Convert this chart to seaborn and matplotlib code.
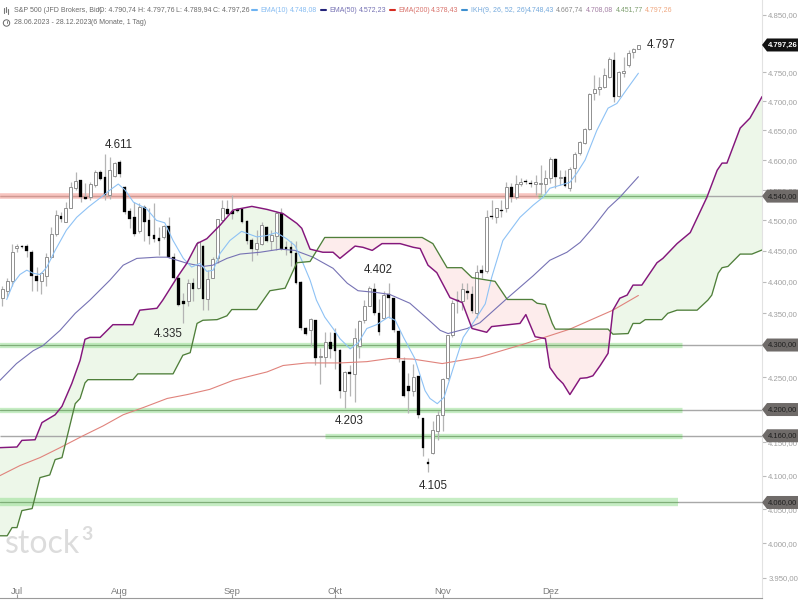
import numpy as np
import matplotlib
matplotlib.use("Agg")
import matplotlib.pyplot as plt
import seaborn as sns
from matplotlib.patches import Polygon, Circle
from matplotlib.lines import Line2D
from matplotlib.ticker import FuncFormatter, NullLocator
from matplotlib.transforms import IdentityTransform

# daily candles, S&P 500 CFD
opens = [4375, 4386, 4401, 4455, 4458, 4458, 4448, 4409, 4401, 4410,
         4440, 4477, 4506, 4497, 4520, 4553, 4566, 4538, 4538, 4558,
         4580, 4571, 4541, 4574, 4597, 4555, 4515, 4505, 4482, 4521,
         4500, 4475, 4470, 4472, 4490, 4440, 4406, 4369, 4370, 4398,
         4390, 4458, 4373, 4407, 4438, 4501, 4518, 4515, 4518, 4518,
         4498, 4467, 4454, 4462, 4489, 4466, 4475, 4511, 4456, 4456,
         4446, 4399, 4327, 4323, 4339, 4281, 4281, 4304, 4318, 4291,
         4229, 4257, 4255, 4298, 4339, 4362, 4388, 4350, 4343, 4380,
         4374, 4321, 4274, 4235, 4228, 4251, 4186, 4120, 4134, 4168,
         4191, 4248, 4315, 4371, 4370, 4385, 4381, 4351, 4419, 4417,
         4506, 4505, 4517, 4520, 4555, 4538, 4560, 4564.5, 4561, 4560,
         4560, 4560, 4570, 4602, 4570, 4571, 4553, 4586, 4612, 4628,
         4652, 4714, 4721, 4725, 4742, 4771, 4709, 4749, 4762, 4785,
         4790.74]
highs = [4394, 4407, 4462, 4462, 4460, 4462, 4451, 4424, 4416, 4446,
         4489, 4517, 4513, 4530, 4563, 4580, 4566, 4561, 4563, 4583,
         4583, 4611, 4605, 4597, 4600, 4556, 4521, 4530, 4528, 4525,
         4521, 4528, 4489, 4493, 4505, 4446, 4409, 4382, 4404, 4406,
         4467, 4459, 4419, 4440, 4503, 4533, 4533, 4541, 4520, 4520,
         4500, 4471, 4484, 4497, 4490, 4484, 4515, 4520, 4467, 4467,
         4466, 4401, 4329, 4342, 4340, 4296, 4320, 4320, 4326, 4293,
         4260, 4268, 4326, 4339, 4371, 4393, 4399, 4373, 4386, 4398,
         4375, 4323, 4281, 4257, 4270, 4252, 4187, 4127, 4183, 4198,
         4248, 4316, 4371, 4386, 4398, 4398, 4394, 4427, 4427, 4517,
         4533, 4521, 4533, 4563, 4561, 4575, 4570, 4568, 4566, 4575,
         4591, 4583, 4605, 4603, 4583, 4583, 4588, 4613, 4632, 4654,
         4714, 4745, 4742, 4757, 4776, 4785, 4752, 4776, 4788, 4792,
         4797.76]
lows = [4362, 4376, 4393, 4448, 4455, 4440, 4386, 4386, 4381, 4394,
        4438, 4475, 4497, 4497, 4520, 4550, 4530, 4536, 4533, 4555,
        4566, 4533, 4536, 4571, 4571, 4511, 4487, 4475, 4479, 4467,
        4462, 4464, 4443, 4470, 4438, 4404, 4361, 4335, 4362, 4370,
        4388, 4356, 4356, 4406, 4431, 4497, 4508, 4503, 4513, 4495,
        4461, 4433, 4443, 4459, 4464, 4451, 4451, 4451, 4443, 4426,
        4397, 4324, 4315, 4299, 4268, 4240, 4265, 4279, 4263, 4218,
        4203, 4221, 4211, 4279, 4335, 4361, 4348, 4315, 4341, 4343,
        4321, 4273, 4220, 4195, 4221, 4187, 4130, 4105, 4133, 4153,
        4168, 4245, 4313, 4351, 4355, 4373, 4350, 4342, 4406, 4415,
        4502, 4495, 4505, 4513, 4530, 4536, 4556, 4560, 4555, 4541,
        4541, 4545, 4561, 4553, 4558, 4555, 4548, 4563, 4608, 4627,
        4650, 4702, 4711, 4723, 4740, 4699, 4707, 4742, 4759, 4774,
        4789.94]
closes = [4388, 4401, 4448, 4458, 4456, 4450, 4410, 4402, 4414, 4440,
          4477, 4508, 4503, 4520, 4555, 4565, 4538, 4536, 4560, 4580,
          4569, 4541, 4583, 4595, 4576, 4513, 4503, 4477, 4521, 4498,
          4475, 4469, 4467, 4490, 4440, 4406, 4364, 4365, 4398, 4388,
          4464, 4373, 4404, 4436, 4501, 4520, 4511, 4511, 4516, 4497,
          4467, 4453, 4462, 4492, 4466, 4475, 4511, 4453, 4453, 4446,
          4399, 4326, 4318, 4340, 4279, 4283, 4305, 4294, 4291, 4229,
          4257, 4255, 4310, 4337, 4361, 4390, 4350, 4320, 4378, 4374,
          4323, 4279, 4221, 4229, 4249, 4192, 4142, 4118, 4169, 4191,
          4246, 4315, 4366, 4370, 4388, 4383, 4354, 4415, 4415, 4505,
          4505, 4520, 4516, 4555, 4538, 4560, 4563, 4563, 4560, 4563,
          4561, 4570, 4602, 4571, 4571, 4556, 4585, 4610, 4630, 4652,
          4712, 4721, 4723, 4745, 4773, 4707, 4750, 4752, 4783, 4790,
          4797.26]

ema10_idx = [0.9, 2.25, 3.6, 5, 6.3, 7.8, 9.1, 10.8, 13.1, 15.2, 17.6, 20, 22, 23.7, 25.1,
             26.8, 29.5, 31.5, 33.2, 34.9, 37, 38.7, 40.4, 41.8, 43.1, 44.5, 46.5, 48.9,
             52, 54, 56, 58.1, 59.8, 61.2, 62.9, 64.2, 65.9, 67.6, 69, 71.1, 72.8, 74.5,
             76.5, 78.9, 80.3, 82, 84.3, 86.4, 87.4, 88.9, 90.3, 92.2, 94.2, 96.3, 98.7,
             100, 102.3, 105.8, 108.5, 110.5, 111.9, 114, 116, 117.4, 119.1, 121.5, 123.8,
             125.6, 127.6, 130]
ema10_val = [4372, 4398, 4412, 4419, 4414, 4412, 4424, 4451, 4484, 4505, 4522, 4537, 4550, 4560, 4550,
             4530, 4519, 4500, 4496, 4467, 4438, 4424, 4430, 4417, 4419, 4446, 4467, 4482,
             4473, 4475, 4480, 4470, 4459, 4435, 4403, 4371, 4344, 4326, 4310, 4294, 4304, 4326,
             4332, 4344, 4339, 4312, 4279, 4229, 4217, 4209, 4219, 4265, 4312, 4336, 4365,
             4407, 4467, 4505, 4525, 4538, 4553, 4558, 4563, 4578, 4600, 4650, 4688,
             4696, 4720, 4748.08]

ema50_idx = [-0.47, 2.9, 6.3, 8.3, 11.8, 14.9, 17.9, 22, 24.7, 27.5, 31.6, 33.7, 37.8, 41, 43, 45.9,
             48.6, 52.7, 56.8, 59.8, 63.5, 67.6, 70.5, 72.7, 76.6, 79.2, 83.3, 86.8, 89.5,
             91.1, 95, 97.6, 103.2, 108.5, 111.9, 115.4, 118.1, 120.7, 123.8, 126.2, 130]
ema50_val = [4245, 4271, 4291, 4299, 4323, 4350, 4371, 4403, 4427, 4438, 4440, 4440, 4430, 4425, 4427, 4438,
             4445, 4448, 4453, 4451, 4440, 4422, 4398, 4386, 4383, 4380, 4366, 4342, 4323,
             4318, 4326, 4335, 4374, 4410, 4435, 4448, 4464, 4488, 4520, 4538, 4572.23]

ema200_idx = [-0.47, 3.6, 7.7, 11.8, 16.5, 20.6, 24.7, 28.8, 33.7, 37.8, 42.4, 47.2, 54.1, 57.4,
              62.3, 69, 74.5, 79.2, 83.9, 89.9, 97.6, 106.4, 116, 124.8, 130]
ema200_val = [4100, 4115, 4127, 4142, 4160, 4175, 4192, 4203, 4217, 4223, 4231, 4245, 4258, 4268,
              4272, 4272, 4274, 4279, 4278, 4271, 4281, 4301, 4325, 4355, 4378.43]

# Ikhimoku cloud edges, these run on past the last candle
span_a_idx = [-0.5, 3, 4, 6.7, 8.1, 10.8, 12.2, 14.2, 15.9, 16.9, 17.9, 20, 22.6, 26.7, 28.1, 31.6, 32.8,
              35.7, 37.7, 39.8, 41.8, 44.5, 47.2, 51, 54.1, 57.4, 60.2, 61.2, 62.9, 65.5, 67.6,
              69, 72.1, 73.7, 75.6, 77.6, 81.3, 84, 85.4, 87, 88.8, 91.5, 94, 96, 99, 100, 105.8,
              107, 108.9, 111, 111.9, 113.4, 114.6, 116, 118.1, 119.5, 120.7, 122.2, 123.8,
              124.8, 126.2, 127.7, 128.9, 130.7, 133.8, 135, 137.9, 140.6, 144, 146.1, 147.1,
              148.1, 150.8, 152.8, 155.3]
span_a_val = [4142, 4143, 4153, 4154, 4180, 4192, 4205, 4240, 4276, 4309, 4312, 4312, 4332, 4332, 4355, 4358, 4371,
              4407, 4430, 4462, 4470, 4492, 4517, 4523, 4518, 4511, 4495, 4487, 4453, 4448, 4448,
              4438, 4458, 4456, 4451, 4462, 4462, 4456, 4454, 4427, 4415, 4375, 4367, 4326, 4320, 4329, 4334,
              4348, 4313, 4310, 4265, 4249, 4240, 4223, 4248, 4249, 4252, 4268, 4287,
              4355, 4374, 4379, 4395, 4395, 4431, 4438, 4462, 4480, 4538, 4583, 4595,
              4595, 4654, 4671, 4708]
span_b_idx = [-0.5, 1, 2, 3, 4, 6.1, 7.7, 9.7, 10.8, 12.2, 14.9, 15.9, 16.9, 17.5, 26.7, 27.7, 34.9,
              36.9, 38.4, 39.8, 41, 43.9, 45.9, 46.9, 52, 54.7, 57.8, 60.2, 62.9, 63.9, 65.9,
              74.5, 85.8, 88, 90.9, 93.9, 96, 100.7, 103.2, 108.3, 109.3, 111, 112.4, 113,
              123.8, 124.8, 127.9, 128.9, 130.3, 131.4, 134.8, 136, 137.9, 142, 144.2, 145,
              146.3, 147.1, 148.3, 150.8, 153.2, 155.3]
span_b_val = [4011, 4011, 4023, 4023, 4048, 4051, 4097, 4101, 4124, 4127, 4209, 4217, 4241, 4246, 4246, 4255, 4255,
              4284, 4288, 4334, 4339, 4340, 4346, 4356, 4356, 4386, 4390, 4431, 4433, 4446, 4472,
              4472, 4472, 4462, 4423, 4423, 4407, 4401, 4372, 4372, 4366, 4364, 4334, 4325,
              4325, 4317, 4318, 4334, 4334, 4340, 4340, 4350, 4355, 4355, 4371, 4379,
              4414, 4423, 4425, 4445, 4445, 4451.77]

month_idx = [3, 24, 47, 68, 90, 112]
month_labels = ["Jul", "Aug", "Sep", "Okt", "Nov", "Dez"]
# 4800, 4300 and 4200 sit fully behind the price tags
price_ticks = [3950, 4000, 4050, 4100, 4150, 4250, 4350, 4400, 4450, 4500, 4550,
               4600, 4650, 4700, 4750, 4850]
tag_levels = [4540, 4300, 4200, 4160, 4060]

# level, first candle of the band, last candle of the band
green_bands = [(4540, 109.5, 144), (4300, -1, 139), (4200, -1, 139), (4160, 66, 139), (4060, -1, 138)]

sns.set_style("white")
plt.rcParams["font.family"] = ["Liberation Sans", "DejaVu Sans"]

W, H = 800, 600
PX_PER_CANDLE = 4.893
fig = plt.figure(figsize=(8, 6), dpi=100)
ax = fig.add_axes([0, 2 / H, 762 / W, 598 / H])
ax.set_yscale("log")
ax.set_xlim(-2.3 / PX_PER_CANDLE, (762 - 2.3) / PX_PER_CANDLE)
ax.set_ylim(3921, 4876.6)

# cloud
grid = np.union1d(span_a_idx, span_b_idx)
a = np.interp(grid, span_a_idx, span_a_val)
b = np.interp(grid, span_b_idx, span_b_val)
ax.fill_between(grid, a, b, where=a >= b, interpolate=True, color="#edf7e9", lw=0, zorder=1)
ax.fill_between(grid, a, b, where=a <= b, interpolate=True, color="#fdecec", lw=0, zorder=1)

# levels
x_max = ax.get_xlim()[1]
x_min = ax.get_xlim()[0]
for level in tag_levels:
    ax.hlines(level, x_min, x_max, color="#a8a8a8", lw=1.0, zorder=2)
ax.hlines(4540, x_min, 110, color="#f08a80", alpha=0.5, lw=4.0, zorder=2)
ax.hlines(4540, x_min, 110, color="#d09a94", lw=0.7, zorder=2)
for level, start, end in green_bands:
    width = 6.0 if level == 4060 else 3.8
    ax.hlines(level, start, end, color="#8fdc8a", alpha=0.5, lw=width, zorder=2)
    ax.hlines(level, start, end, color="#7fae78", lw=0.7, zorder=2)

# candles
idx = np.arange(len(closes))
o = np.array(opens, dtype=float)
c = np.array(closes, dtype=float)
up = c >= o
ax.vlines(idx, lows, highs, color="#b4b4b4", lw=0.9, zorder=3)
ax.bar(idx[up], (c - o)[up] + 0.5, bottom=o[up], width=0.62, color="white",
       edgecolor="#909090", linewidth=0.7, zorder=3.5)
ax.bar(idx[~up], (o - c)[~up] + 0.5, bottom=c[~up], width=0.56, color="black",
       edgecolor="black", linewidth=0.2, zorder=3.5)

# indicator lines
line_opts = dict(ax=ax, estimator=None, sort=False, errorbar=None, zorder=4)
sns.lineplot(x=ema200_idx, y=ema200_val, color="#e0837c", lw=0.8, **line_opts)
sns.lineplot(x=ema50_idx, y=ema50_val, color="#7672b4", lw=0.8, **line_opts)
sns.lineplot(x=ema10_idx, y=ema10_val, color="#8ec2f5", lw=0.8, **line_opts)
sns.lineplot(x=span_b_idx, y=span_b_val, color="#4f7f3a", lw=0.95, **line_opts)
sns.lineplot(x=span_a_idx, y=span_a_val, color="#84177c", lw=1.05, **line_opts)

# axes
for side in ["top", "left"]:
    ax.spines[side].set_visible(False)
ax.spines["right"].set_color("#e2e2e2")
ax.spines["bottom"].set_color("#9a9a9a")
ax.yaxis.tick_right()
ax.set_yticks(price_ticks)
ax.yaxis.set_minor_locator(NullLocator())
ax.yaxis.set_major_formatter(FuncFormatter(lambda v, _: f"{v:,.2f}".replace(",", "X").replace(".", ",").replace("X", ".")))
ax.tick_params(axis="y", which="major", right=True, length=3, width=0.8, color="#bbbbbb",
               labelcolor="#a0a0a0", labelsize=5.6, pad=1.5)
ax.set_xticks(month_idx)
ax.set_xticklabels(month_labels)
ax.tick_params(axis="x", bottom=True, direction="in", length=3, width=0.8, color="#9a9a9a",
               labelcolor="#7c7c7c", labelsize=6.8, pad=-8)

# swing labels
for i, price, txt, align in [(23.85, 4625, "4.611", "center"), (33.9, 4318, "4.335", "center"),
                             (70.9, 4183, "4.203", "center"), (76.8, 4420, "4.402", "center"),
                             (88, 4085, "4.105", "center"), (131.8, 4797, "4.797", "left")]:
    ax.text(i, price, txt, ha=align, va="center", color="#2b2b2b", fontsize=8.3, zorder=6)

# watermark
ax.text(3 / PX_PER_CANDLE, 3999, "stock", family="Lato", fontsize=23, color="#dcdcdc",
        ha="left", va="center", zorder=1.5)
ax.text(79 / PX_PER_CANDLE, 4013, "3", family="Lato", fontsize=14, weight="bold", color="#dcdcdc",
        ha="left", va="center", zorder=1.5)


def px(x, y):
    return x / W, 1 - y / H


# price tags on the axis
def price_tag(price, txt, face, text_color, weight="normal"):
    y = ax.transData.transform((0, price))[1]
    pts = [(762, y), (767, y + 6.5), (798, y + 6.5), (798, y - 6.5), (767, y - 6.5)]
    fig.add_artist(Polygon(pts, closed=True, facecolor=face, edgecolor="none",
                           transform=IdentityTransform(), zorder=8))
    fig.text(782.5 / W, y / H, txt, color=text_color, fontsize=5.5, weight=weight,
             ha="center", va="center", zorder=9)


for level in tag_levels:
    price_tag(level, f"{level:,}".replace(",", ".") + ",00", "#6f6b69", "#1f1f1f")
price_tag(closes[-1], "4.797,26", "#111111", "white", "bold")

# header
header = [(13.5, "S&P 500 (JFD Brokers, Bid)", "#6b6b6b"), (99, "O: 4.790,74", "#6b6b6b"),
          (138, "H: 4.797,76", "#6b6b6b"), (176, "L: 4.789,94", "#6b6b6b"),
          (213, "C: 4.797,26", "#6b6b6b"), (260, "EMA(10)", "#86bcf2"), (290, "4.748,08", "#86bcf2"),
          (329, "EMA(50)", "#7672b4"), (359, "4.572,23", "#7672b4"), (398, "EMA(200)", "#d9736c"),
          (431, "4.378,43", "#d9736c"), (471, "IKH(9, 26, 52, 26)", "#74a9dc"),
          (527, "4.748,43", "#74a9dc"), (556, "4.667,74", "#8a8a8a"), (586, "4.708,08", "#a47fa4"),
          (616, "4.451,77", "#7f9f70"), (645, "4.797,26", "#efa67e")]
for x, txt, col in header:
    fig.text(*px(x, 10), txt, color=col, fontsize=5.0, ha="left", va="center")
fig.text(*px(13.5, 23), "28.06.2023 - 28.12.2023", color="#6b6b6b", fontsize=5.0, ha="left", va="center")
fig.text(*px(91, 23), "(6 Monate, 1 Tag)", color="#6b6b6b", fontsize=5.0, ha="left", va="center")

for x0, col in [(252, "#6db3f2"), (321, "#24247a"), (390, "#d62b20"), (462, "#3d8fd0")]:
    fig.add_artist(Line2D([x0 / W, (x0 + 5) / W], [1 - 10 / H] * 2, color=col, lw=1.5))
# small icons
for x0, y0, y1 in [(4, 8, 13), (6, 7, 12), (8, 9, 14)]:
    fig.add_artist(Line2D([x0 / W] * 2, [1 - y0 / H, 1 - y1 / H], color="#777777", lw=0.8))
fig.add_artist(Circle((6.5, H - 23), 3.2, transform=IdentityTransform(), fill=False, edgecolor="#666666", lw=0.7))
fig.add_artist(Line2D([6.5 / W] * 2, [1 - 20.5 / H, 1 - 23 / H], color="#666666", lw=0.6))

fig.savefig("out.png", dpi=100)
